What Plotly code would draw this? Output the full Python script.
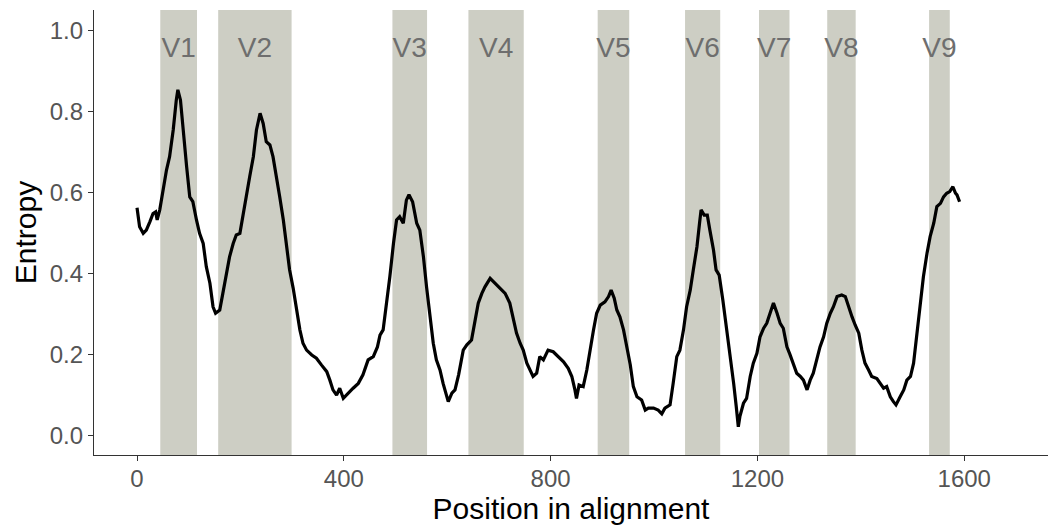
import plotly.graph_objects as go

# Variable regions (alignment positions)
region_labels = ["V1", "V2", "V3", "V4", "V5", "V6", "V7", "V8", "V9"]
region_start = [45, 157, 494, 641, 891, 1060, 1203, 1335, 1532]
region_end = [116, 299, 561, 748, 952, 1128, 1262, 1390, 1572]
label_y = 0.95

# Entropy along the alignment
position = [0, 5, 12, 18, 25, 31, 36, 39, 44, 50, 57, 63, 70, 76, 79, 84, 89, 96, 102, 108,
            115, 121, 128, 134, 141, 147, 152, 160, 166, 173, 179, 186, 192, 199, 205, 212,
            218, 225, 231, 238, 244, 250, 257, 263, 270, 276, 283, 289, 295, 302, 309, 315,
            321, 328, 338, 347, 357, 367, 373, 379, 386, 392, 399, 408, 418, 428, 437, 447,
            457, 465, 470, 476, 483, 489, 496, 502, 508, 515, 521, 526, 533, 541, 547, 554,
            560, 567, 573, 579, 586, 592, 599, 602, 609, 615, 622, 631, 638, 647, 654, 660,
            667, 673, 683, 692, 702, 712, 721, 728, 734, 741, 747, 754, 760, 766, 773, 779,
            786, 795, 805, 815, 825, 834, 841, 847, 850, 855, 863, 870, 876, 883, 889, 896,
            905, 912, 917, 923, 928, 934, 941, 947, 954, 960, 967, 976, 983, 989, 999, 1008,
            1015, 1021, 1031, 1037, 1044, 1050, 1057, 1063, 1070, 1076, 1083, 1088, 1091,
            1097, 1103, 1108, 1115, 1120, 1126, 1133, 1141, 1147, 1154, 1159, 1163, 1166,
            1173, 1179, 1186, 1192, 1199, 1205, 1212, 1218, 1225, 1231, 1238, 1244, 1250,
            1257, 1263, 1270, 1276, 1283, 1289, 1296, 1302, 1308, 1315, 1321, 1328, 1334,
            1341, 1347, 1354, 1363, 1370, 1376, 1383, 1389, 1396, 1402, 1408, 1415, 1421,
            1431, 1438, 1444, 1450, 1457, 1463, 1468, 1476, 1483, 1489, 1496, 1502, 1508,
            1515, 1521, 1528, 1534, 1541, 1547, 1554, 1560, 1566, 1572, 1578, 1583, 1586, 1591]
entropy = [0.562, 0.515, 0.499, 0.507, 0.528, 0.548, 0.552, 0.532, 0.557, 0.606, 0.655, 0.688,
           0.754, 0.828, 0.853, 0.828, 0.754, 0.663, 0.589, 0.577, 0.532, 0.499, 0.474, 0.417,
           0.376, 0.318, 0.302, 0.310, 0.351, 0.400, 0.441, 0.474, 0.495, 0.499, 0.540, 0.598,
           0.639, 0.688, 0.754, 0.795, 0.770, 0.725, 0.717, 0.688, 0.639, 0.589, 0.532, 0.466,
           0.410, 0.364, 0.310, 0.261, 0.228, 0.211, 0.199, 0.191, 0.174, 0.158, 0.137, 0.113,
           0.100, 0.117, 0.092, 0.105, 0.117, 0.129, 0.150, 0.187, 0.195, 0.219, 0.248, 0.261,
           0.327, 0.392, 0.474, 0.532, 0.540, 0.524, 0.581, 0.594, 0.577, 0.524, 0.507, 0.441,
           0.367, 0.293, 0.228, 0.187, 0.162, 0.129, 0.096, 0.084, 0.105, 0.113, 0.150, 0.211,
           0.224, 0.236, 0.285, 0.327, 0.351, 0.367, 0.388, 0.376, 0.364, 0.351, 0.327, 0.285,
           0.253, 0.228, 0.211, 0.179, 0.162, 0.146, 0.154, 0.195, 0.187, 0.211, 0.207, 0.195,
           0.182, 0.166, 0.146, 0.113, 0.092, 0.125, 0.121, 0.162, 0.211, 0.261, 0.302, 0.322,
           0.330, 0.343, 0.359, 0.339, 0.310, 0.293, 0.261, 0.219, 0.175, 0.121, 0.096, 0.088,
           0.063, 0.068, 0.068, 0.063, 0.054, 0.068, 0.076, 0.129, 0.195, 0.211, 0.261, 0.318,
           0.359, 0.409, 0.466, 0.524, 0.557, 0.544, 0.544, 0.507, 0.458, 0.409, 0.396, 0.335,
           0.261, 0.195, 0.129, 0.072, 0.022, 0.047, 0.080, 0.092, 0.146, 0.179, 0.203, 0.244,
           0.265, 0.277, 0.306, 0.327, 0.302, 0.277, 0.265, 0.219, 0.200, 0.172, 0.154, 0.146,
           0.137, 0.113, 0.137, 0.154, 0.187, 0.219, 0.244, 0.277, 0.302, 0.318, 0.343, 0.347,
           0.343, 0.318, 0.293, 0.273, 0.253, 0.211, 0.179, 0.162, 0.146, 0.141, 0.129, 0.117,
           0.121, 0.096, 0.084, 0.076, 0.096, 0.113, 0.137, 0.146, 0.179, 0.244, 0.327, 0.392,
           0.450, 0.491, 0.524, 0.565, 0.573, 0.589, 0.598, 0.602, 0.614, 0.598, 0.594, 0.577]

x_ticks = [0, 400, 800, 1200, 1600]
y_ticks = [0.0, 0.2, 0.4, 0.6, 0.8, 1.0]
y_tick_text = ["0.0", "0.2", "0.4", "0.6", "0.8", "1.0"]

fig = go.Figure()

for s, e in zip(region_start, region_end):
    fig.add_vrect(x0=s, x1=e, fillcolor="#cdcec4", opacity=1, line_width=0, layer="below")

fig.add_trace(go.Scatter(
    x=position, y=entropy, mode="lines",
    line=dict(color="black", width=3.2), showlegend=False, hoverinfo="skip"))

fig.add_trace(go.Scatter(
    x=[(s + e) / 2 for s, e in zip(region_start, region_end)],
    y=[label_y] * len(region_labels),
    text=region_labels, mode="text",
    textfont=dict(family="Liberation Sans, Arial, sans-serif", size=28, color="#6e6e6e"),
    showlegend=False, hoverinfo="skip"))

fig.update_layout(
    width=1050, height=525,
    margin=dict(l=94, r=2, t=10, b=70),
    plot_bgcolor="white", paper_bgcolor="white",
    font=dict(family="Liberation Sans, Arial, sans-serif"),
)
fig.update_xaxes(
    range=[-83.2, 1762], tickvals=x_ticks, ticktext=[str(t) for t in x_ticks],
    showgrid=False, zeroline=False, showline=True, linecolor="#333333", linewidth=1.2,
    ticks="outside", ticklen=5, tickcolor="#333333", tickwidth=1.2,
    tickfont=dict(size=24, color="#555555"), ticklabelstandoff=-3,
    title=dict(text="Position in alignment", font=dict(size=30, color="black"), standoff=0),
)
fig.update_yaxes(
    range=[-0.0476, 1.0498], tickvals=y_ticks, ticktext=y_tick_text,
    showgrid=False, zeroline=False, showline=True, linecolor="#333333", linewidth=1.2,
    ticks="outside", ticklen=5, tickcolor="#333333", tickwidth=1.2,
    tickfont=dict(size=24, color="#555555"),
    title=dict(text="Entropy", font=dict(size=30, color="black"), standoff=4),
)

fig.write_html("out.html")
